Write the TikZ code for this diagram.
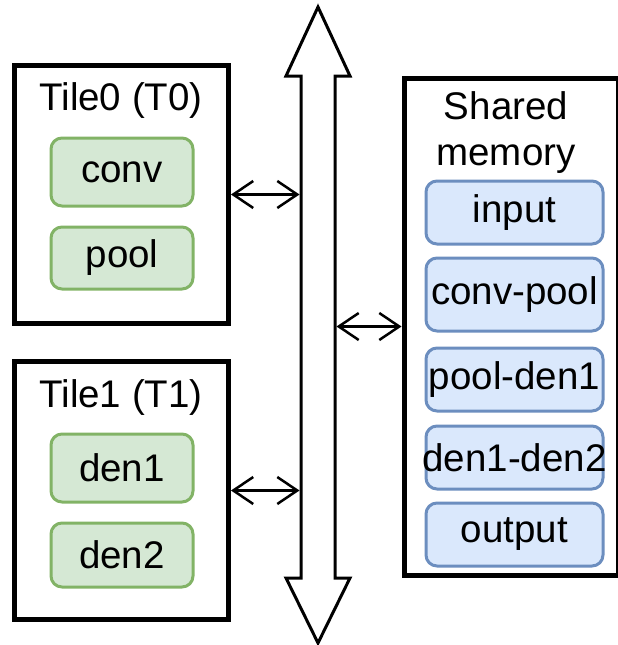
\documentclass[tikz,border=0pt]{standalone}
\usepackage{fontspec}
\setmainfont{Liberation Sans}
\usetikzlibrary{arrows.meta}
\definecolor{gfill}{HTML}{D5E8D4}
\definecolor{gline}{HTML}{82B366}
\definecolor{bfill}{HTML}{DAE8FC}
\definecolor{bline}{HTML}{6C8EBF}
\newcommand{\cellname}[1]{\makebox[0pt]{#1}}
\begin{document}
\begin{tikzpicture}[x=1pt,y=-1pt,
  font=\fontsize{38.5}{46}\selectfont,
  tile/.style={draw=black,line width=5pt,minimum width=214.5pt,minimum height=258pt,inner sep=0pt},
  gbox/.style={draw=gline,fill=gfill,line width=3pt,rounded corners=11pt,
    minimum width=142pt,inner sep=0pt},
  bbox/.style={draw=bline,fill=bfill,line width=3pt,rounded corners=11pt,
    minimum width=177pt,inner sep=0pt},
  bus/.style={draw=black,line width=3pt,fill=white,line join=miter},
  conn/.style={draw=black,line width=2.5pt,{Straight Barb[length=20pt,width=27pt]}-{Straight Barb[length=20pt,width=27pt]}}]
\useasboundingbox (0,0) rectangle (618,645);

% shared bus, double-headed block arrow
\draw[bus] (318,7) -- (350,76) -- (335,76) -- (335,578) -- (350,578) -- (318,643)
  -- (286,578) -- (301,578) -- (301,76) -- (286,76) -- cycle;
\coordinate (bus0) at (299.5,194.5);
\coordinate (bus1) at (299.5,490.5);
\coordinate (busm) at (336.5,326.5);

% tile 0
\node[tile] (tile0) at (121.25,194.5) {};
\node (t0label) at (121,101) {Tile0 (T0)};
\node[gbox,minimum height=68pt] (conv) at (122,172) {conv};
\node[gbox,minimum height=62pt] (pool) at (122,258) {pool};

% tile 1
\node[tile] (tile1) at (121.25,490.5) {};
\node (t1label) at (121,398) {Tile1 (T1)};
\node[gbox,minimum height=68pt] (den1) at (122,468) {den1};
\node[gbox,minimum height=64pt] (den2) at (122,555) {den2};

% shared memory
\node[draw=black,line width=5pt,minimum width=214pt,minimum height=496.5pt,inner sep=0pt]
  (mem) at (511,326.75) {};
\node[align=center] (memlabel) at (506,133) {Shared\\memory};
\node[bbox,minimum height=63pt] (bin)  at (514.5,212.5) {\cellname{input}};
\node[bbox,minimum height=73pt] (bcp)  at (514.5,294.5) {\cellname{conv-pool}};
\node[bbox,minimum height=63pt] (bpd)  at (514.5,379.5) {\cellname{pool-den1}};
\node[bbox,minimum height=63pt] (bdd)  at (514.5,457.5) {\cellname{den1-den2}};
\node[bbox,minimum height=63pt] (bout) at (514.5,534.5) {\cellname{output}};

% links to the bus
\draw[conn] (tile0.east) -- (bus0);
\draw[conn] (tile1.east) -- (bus1);
\draw[conn] (busm) -- (mem.west |- busm);
\end{tikzpicture}
\end{document}
